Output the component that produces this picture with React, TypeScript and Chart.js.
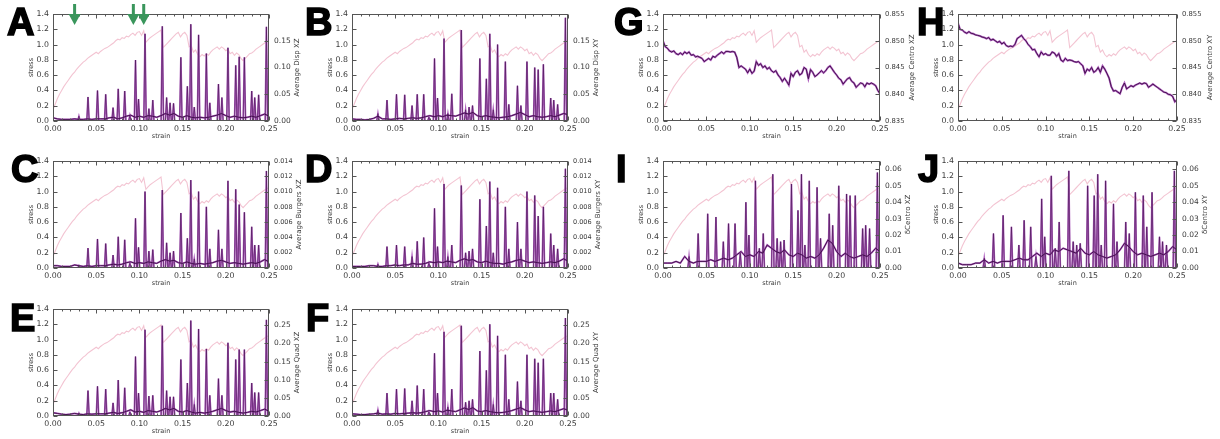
import React, { useEffect, useRef } from 'react';
import { Chart, registerables } from 'chart.js';
Chart.register(...registerables);

// ---------- data ----------
const STRESS_STEP = 0.0025;
const BASE_STEP = 0.005;
const CENTRO_STEP = 0.0025;
const X_TICKS = [0, 0.05, 0.1, 0.15, 0.2, 0.25];

const STRESS = [
  0.15, 0.22, 0.29, 0.35, 0.40, 0.45, 0.49, 0.53, 0.57, 0.61,
  0.64, 0.68, 0.71, 0.74, 0.77, 0.79, 0.82, 0.84, 0.86, 0.88,
  0.90, 0.88, 0.91, 0.93, 0.95, 0.96, 0.98, 1.00, 1.02, 1.05,
  1.07, 1.06, 1.09, 1.08, 1.11, 1.10, 1.13, 1.15, 1.12, 1.16,
  1.17, 1.12, 1.18, 1.03, 1.06, 1.09, 1.11, 1.13, 1.15, 1.17,
  1.19, 0.96, 0.99, 1.02, 1.05, 1.08, 1.11, 1.14, 1.16, 1.10,
  1.14, 1.16, 1.12, 0.97, 0.99, 0.90, 0.93, 0.87, 0.84, 0.87,
  0.85, 0.88, 0.86, 0.90, 0.93, 0.95, 0.97, 0.94, 0.97, 0.95,
  0.92, 0.94, 0.88, 0.90, 0.86, 0.89, 0.87, 0.82, 0.79, 0.82,
  0.85, 0.88, 0.89, 0.91, 0.94, 0.96, 0.98, 1.00, 1.02, 1.04,
  1.05,
];

const SPIKE_X = [
  0.030, 0.0405, 0.0515, 0.061, 0.0695, 0.0755, 0.083, 0.089, 0.0955, 0.099,
  0.1065, 0.111, 0.1155, 0.1265, 0.1315, 0.1355, 0.1395, 0.148, 0.1555, 0.1595,
  0.1635, 0.1685, 0.1775, 0.1815, 0.1915, 0.1955, 0.2025, 0.2115, 0.2155, 0.2215,
  0.2300, 0.2335, 0.2380, 0.2470,
];

const A_PEAKS = [0.009,0.045,0.057,0.050,0.025,0.060,0.056,0.010,0.114,0.041,0.163,0.023,0.039,0.177,0.044,0.034,0.033,0.119,0.065,0.181,0.026,0.161,0.126,0.034,0.069,0.044,0.137,0.104,0.120,0.119,0.056,0.044,0.049,0.176];
const B_PEAKS = [0.014,0.039,0.050,0.049,0.029,0.050,0.050,0.007,0.117,0.043,0.154,0.014,0.051,0.170,0.021,0.026,0.029,0.117,0.079,0.163,0.021,0.143,0.111,0.031,0.066,0.029,0.111,0.100,0.096,0.106,0.043,0.039,0.031,0.193];
const C_PEAKS = [0.0003,0.0026,0.0038,0.0032,0.0017,0.0041,0.0037,0.0006,0.0065,0.0027,0.0100,0.0022,0.0024,0.0102,0.0033,0.0020,0.0022,0.0072,0.0039,0.0115,0.0012,0.0100,0.0080,0.0025,0.0050,0.0025,0.0114,0.0103,0.0083,0.0073,0.0054,0.0030,0.0030,0.0127];
const D_PEAKS = [0.0005,0.0028,0.0030,0.0028,0.0015,0.0035,0.0040,0.0006,0.0078,0.0028,0.0110,0.0015,0.0030,0.0108,0.0020,0.0022,0.0025,0.0090,0.0055,0.0113,0.0020,0.0105,0.0080,0.0025,0.0060,0.0025,0.0100,0.0095,0.0068,0.0080,0.0045,0.0030,0.0025,0.0130];
const E_PEAKS = [0.008,0.070,0.082,0.074,0.036,0.099,0.078,0.011,0.164,0.063,0.238,0.055,0.057,0.249,0.070,0.053,0.053,0.156,0.091,0.263,0.032,0.240,0.185,0.057,0.103,0.057,0.202,0.156,0.183,0.183,0.091,0.065,0.065,0.265];
const F_PEAKS = [0.017,0.063,0.074,0.076,0.042,0.084,0.074,0.011,0.173,0.063,0.232,0.025,0.074,0.249,0.038,0.042,0.046,0.179,0.126,0.253,0.032,0.221,0.169,0.046,0.095,0.042,0.169,0.158,0.147,0.158,0.063,0.063,0.046,0.270];
const I_PEAKS = [0.007,0.021,0.033,0.031,0.016,0.027,0.027,0.009,0.040,0.020,0.053,0.012,0.021,0.057,0.018,0.016,0.017,0.051,0.035,0.057,0.014,0.053,0.049,0.018,0.033,0.026,0.050,0.045,0.044,0.044,0.024,0.026,0.024,0.058];
const J_PEAKS = [0.006,0.021,0.032,0.025,0.014,0.029,0.025,0.007,0.042,0.019,0.056,0.012,0.028,0.059,0.016,0.014,0.015,0.050,0.044,0.057,0.014,0.053,0.039,0.016,0.028,0.021,0.046,0.044,0.025,0.046,0.019,0.016,0.014,0.059];

const A_BASE = [0.006,0.004,0.003,0.003,0.003,0.004,0.003,0.003,0.004,0.003,0.004,0.004,0.004,0.006,0.007,0.004,0.006,0.009,0.011,0.007,0.009,0.007,0.010,0.009,0.007,0.010,0.014,0.011,0.014,0.009,0.007,0.010,0.007,0.006,0.007,0.006,0.007,0.009,0.011,0.014,0.010,0.007,0.009,0.007,0.006,0.007,0.009,0.007,0.010,0.013,0.009];
const B_BASE = [0.004,0.003,0.003,0.002,0.003,0.005,0.009,0.004,0.004,0.003,0.004,0.005,0.004,0.005,0.006,0.005,0.006,0.008,0.010,0.008,0.010,0.008,0.011,0.010,0.009,0.012,0.015,0.013,0.016,0.010,0.008,0.010,0.008,0.007,0.006,0.007,0.008,0.010,0.013,0.016,0.012,0.008,0.010,0.008,0.007,0.008,0.010,0.008,0.011,0.014,0.012];
const C_BASE = [0.0003,0.0003,0.0002,0.0002,0.0002,0.0004,0.0003,0.0002,0.0003,0.0002,0.0003,0.0003,0.0003,0.0004,0.0005,0.0004,0.0005,0.0007,0.0008,0.0006,0.0007,0.0006,0.0008,0.0007,0.0006,0.0009,0.0011,0.0009,0.0010,0.0007,0.0006,0.0008,0.0006,0.0005,0.0006,0.0005,0.0006,0.0007,0.0009,0.0010,0.0008,0.0006,0.0007,0.0006,0.0005,0.0006,0.0007,0.0006,0.0008,0.0011,0.0008];
const D_BASE = [0.0002,0.0002,0.0002,0.0002,0.0003,0.0003,0.0002,0.0002,0.0003,0.0003,0.0004,0.0003,0.0004,0.0004,0.0006,0.0005,0.0005,0.0006,0.0008,0.0007,0.0008,0.0007,0.0009,0.0008,0.0007,0.0010,0.0012,0.0010,0.0011,0.0008,0.0007,0.0009,0.0007,0.0006,0.0006,0.0005,0.0007,0.0008,0.0010,0.0011,0.0009,0.0007,0.0008,0.0007,0.0006,0.0007,0.0008,0.0007,0.0009,0.0012,0.0009];
const E_BASE = [0.009,0.007,0.005,0.004,0.005,0.007,0.005,0.004,0.006,0.005,0.006,0.006,0.006,0.008,0.010,0.007,0.009,0.013,0.017,0.011,0.013,0.010,0.015,0.013,0.011,0.015,0.021,0.017,0.021,0.013,0.011,0.015,0.011,0.008,0.010,0.008,0.010,0.013,0.017,0.021,0.015,0.011,0.013,0.010,0.008,0.010,0.013,0.011,0.015,0.019,0.013];
const F_BASE = [0.006,0.005,0.004,0.004,0.005,0.006,0.008,0.005,0.006,0.005,0.007,0.006,0.007,0.008,0.009,0.008,0.009,0.012,0.015,0.012,0.014,0.011,0.016,0.014,0.012,0.017,0.022,0.018,0.023,0.014,0.012,0.015,0.012,0.010,0.009,0.010,0.012,0.015,0.019,0.023,0.017,0.012,0.014,0.012,0.010,0.012,0.014,0.012,0.016,0.020,0.016];
const I_BASE = [0.003,0.003,0.003,0.004,0.003,0.007,0.004,0.003,0.004,0.004,0.004,0.005,0.004,0.005,0.006,0.005,0.006,0.008,0.010,0.007,0.008,0.007,0.010,0.009,0.014,0.012,0.010,0.009,0.011,0.008,0.007,0.009,0.008,0.006,0.007,0.006,0.008,0.012,0.017,0.015,0.010,0.007,0.009,0.007,0.006,0.007,0.008,0.007,0.009,0.012,0.010];
const J_BASE = [0.003,0.002,0.002,0.002,0.003,0.003,0.005,0.003,0.004,0.003,0.004,0.004,0.004,0.005,0.006,0.005,0.005,0.007,0.009,0.007,0.009,0.008,0.011,0.010,0.012,0.011,0.010,0.009,0.012,0.009,0.008,0.010,0.008,0.007,0.006,0.007,0.008,0.011,0.015,0.013,0.010,0.008,0.009,0.008,0.007,0.008,0.009,0.008,0.010,0.013,0.011];

const G_CENTRO = [
  0.8500, 0.8489, 0.8486, 0.8481, 0.8479, 0.8481, 0.8476, 0.8474, 0.8477, 0.8474,
  0.8479, 0.8476, 0.8479, 0.8473, 0.8474, 0.8470, 0.8471, 0.8469, 0.8467, 0.8461,
  0.8464, 0.8467, 0.8464, 0.8471, 0.8469, 0.8473, 0.8476, 0.8479, 0.8476, 0.8480,
  0.8480, 0.8479, 0.8480, 0.8479, 0.8469, 0.8450, 0.8453, 0.8450, 0.8447, 0.8440,
  0.8447, 0.8439, 0.8443, 0.8461, 0.8454, 0.8457, 0.8450, 0.8453, 0.8447, 0.8450,
  0.8444, 0.8441, 0.8444, 0.8436, 0.8431, 0.8424, 0.8430, 0.8424, 0.8417, 0.8439,
  0.8433, 0.8441, 0.8444, 0.8436, 0.8439, 0.8450, 0.8447, 0.8429, 0.8446, 0.8441,
  0.8433, 0.8436, 0.8440, 0.8444, 0.8440, 0.8444, 0.8450, 0.8453, 0.8447, 0.8441,
  0.8436, 0.8430, 0.8427, 0.8419, 0.8424, 0.8429, 0.8431, 0.8424, 0.8421, 0.8413,
  0.8417, 0.8421, 0.8420, 0.8414, 0.8421, 0.8419, 0.8421, 0.8419, 0.8416, 0.8407,
  0.8401,
];
const H_CENTRO = [
  0.8533, 0.8521, 0.8520, 0.8516, 0.8514, 0.8517, 0.8514, 0.8513, 0.8511, 0.8510,
  0.8509, 0.8507, 0.8506, 0.8504, 0.8506, 0.8501, 0.8503, 0.8500, 0.8497, 0.8499,
  0.8494, 0.8497, 0.8491, 0.8489, 0.8490, 0.8489, 0.8493, 0.8504, 0.8507, 0.8510,
  0.8504, 0.8500, 0.8493, 0.8489, 0.8483, 0.8484, 0.8476, 0.8470, 0.8479, 0.8474,
  0.8476, 0.8473, 0.8473, 0.8479, 0.8477, 0.8471, 0.8476, 0.8464, 0.8461, 0.8467,
  0.8463, 0.8464, 0.8463, 0.8461, 0.8460, 0.8461, 0.8457, 0.8453, 0.8439, 0.8447,
  0.8444, 0.8450, 0.8441, 0.8444, 0.8450, 0.8441, 0.8453, 0.8447, 0.8439, 0.8430,
  0.8414, 0.8406, 0.8407, 0.8404, 0.8401, 0.8413, 0.8421, 0.8410, 0.8413, 0.8416,
  0.8414, 0.8417, 0.8419, 0.8421, 0.8419, 0.8421, 0.8420, 0.8413, 0.8416, 0.8419,
  0.8416, 0.8413, 0.8410, 0.8407, 0.8404, 0.8403, 0.8400, 0.8399, 0.8396, 0.8386,
  0.8390,
];

const ARROW_STRAINS = [0.025, 0.093, 0.105];

const DISP_TICKS = [0, 0.05, 0.1, 0.15];
const BURGERS_TICKS = [0, 0.002, 0.004, 0.006, 0.008, 0.01, 0.012, 0.014];
const QUAD_TICKS = [0, 0.05, 0.1, 0.15, 0.2, 0.25];
const CENTRO_TICKS = [0.835, 0.84, 0.845, 0.85, 0.855];
const DCENTRO_TICKS = [0, 0.01, 0.02, 0.03, 0.04, 0.05, 0.06];

// ---------- layout ----------
const COL_LEFT = [53, 352, 663, 958];
const COL_RIGHT = [269, 568, 880, 1177];
const ROW_TOP = [14, 161, 309];
const PLOT_H = 107;
const PAD_L = 34, PAD_R = 40, PAD_T = 12, PAD_B = 24;

const PINK = 'rgb(243,196,210)';
const DARK = 'rgba(60,12,70,0.9)';
const VIOLET = 'rgb(175,95,190)';
const FONT = 'DejaVu Sans';
const TXT = '#3a3a3a';

type PanelCfg = {
  id: string; col: number; row: number; lx: number; ly: number;
  peaks?: number[]; base?: number[]; centro?: number[];
  rMin: number; rMax: number; rTicks: number[]; dec: number; rFont: number;
  rTitle: string; rOff: number; arrows?: boolean;
};

const PANELS: PanelCfg[] = [
  { id: 'A', col: 0, row: 0, lx: 7, ly: 3, peaks: A_PEAKS, base: A_BASE, rMin: 0, rMax: 0.2, rTicks: DISP_TICKS, dec: 2, rFont: 7.5, rTitle: 'Average Disp XZ', rOff: 28, arrows: true },
  { id: 'B', col: 1, row: 0, lx: 305, ly: 3, peaks: B_PEAKS, base: B_BASE, rMin: 0, rMax: 0.2, rTicks: DISP_TICKS, dec: 2, rFont: 7.5, rTitle: 'Average Disp XY', rOff: 28 },
  { id: 'G', col: 2, row: 0, lx: 614, ly: 3, centro: G_CENTRO, rMin: 0.835, rMax: 0.855, rTicks: CENTRO_TICKS, dec: 3, rFont: 6.8, rTitle: 'Average Centro XZ', rOff: 32 },
  { id: 'H', col: 3, row: 0, lx: 917, ly: 3, centro: H_CENTRO, rMin: 0.835, rMax: 0.855, rTicks: CENTRO_TICKS, dec: 3, rFont: 6.8, rTitle: 'Average Centro XY', rOff: 33 },
  { id: 'C', col: 0, row: 1, lx: 11, ly: 150, peaks: C_PEAKS, base: C_BASE, rMin: 0, rMax: 0.014, rTicks: BURGERS_TICKS, dec: 3, rFont: 6.5, rTitle: 'Average Burgers XZ', rOff: 30 },
  { id: 'D', col: 1, row: 1, lx: 305, ly: 150, peaks: D_PEAKS, base: D_BASE, rMin: 0, rMax: 0.014, rTicks: BURGERS_TICKS, dec: 3, rFont: 6.5, rTitle: 'Average Burgers XY', rOff: 30 },
  { id: 'I', col: 2, row: 1, lx: 616, ly: 150, peaks: I_PEAKS, base: I_BASE, rMin: 0, rMax: 0.065, rTicks: DCENTRO_TICKS, dec: 2, rFont: 7.5, rTitle: 'δCentro XZ', rOff: 28 },
  { id: 'J', col: 3, row: 1, lx: 918, ly: 150, peaks: J_PEAKS, base: J_BASE, rMin: 0, rMax: 0.065, rTicks: DCENTRO_TICKS, dec: 2, rFont: 7.5, rTitle: 'δCentro XY', rOff: 28 },
  { id: 'E', col: 0, row: 2, lx: 10, ly: 299, peaks: E_PEAKS, base: E_BASE, rMin: 0, rMax: 0.295, rTicks: QUAD_TICKS, dec: 2, rFont: 7.5, rTitle: 'Average Quad XZ', rOff: 28 },
  { id: 'F', col: 1, row: 2, lx: 306, ly: 299, peaks: F_PEAKS, base: F_BASE, rMin: 0, rMax: 0.295, rTicks: QUAD_TICKS, dec: 2, rFont: 7.5, rTitle: 'Average Quad XY', rOff: 28 },
];

const SPIKE_HALF = 0.0014;

const decoPlugin = {
  id: 'deco',
  afterDraw(chart: any) {
    const o = chart.options.plugins.deco;
    const { ctx, chartArea: a, scales } = chart;
    const L = Math.round(a.left) + 0.5, R = Math.round(a.right) - 0.5;
    const T = Math.round(a.top) + 0.5, B = Math.round(a.bottom) - 0.5;
    ctx.save();
    ctx.strokeStyle = '#555';
    ctx.lineWidth = 1;
    ctx.strokeRect(L, T, R - L, B - T);
    ctx.beginPath();
    for (let k = 0; k <= 25; k++) {
      const px = Math.round(scales.x.getPixelForValue(k * 0.01)) + 0.5;
      const len = k % 5 === 0 ? 4 : 2;
      ctx.moveTo(px, B); ctx.lineTo(px, B - len);
      ctx.moveTo(px, T); ctx.lineTo(px, T + len);
    }
    scales.y.ticks.forEach((t: any) => {
      const py = Math.round(scales.y.getPixelForValue(t.value)) + 0.5;
      ctx.moveTo(L, py); ctx.lineTo(L + 4, py);
    });
    scales.y1.ticks.forEach((t: any) => {
      const py = Math.round(scales.y1.getPixelForValue(t.value)) + 0.5;
      ctx.moveTo(R, py); ctx.lineTo(R - 4, py);
    });
    ctx.stroke();

    ctx.fillStyle = TXT;
    ctx.textAlign = 'center';
    ctx.textBaseline = 'middle';
    ctx.font = `6.5px "${FONT}"`;
    const cx = (a.left + a.right) / 2, cy = (a.top + a.bottom) / 2;
    ctx.fillText('strain', cx, a.bottom + 15);
    ctx.save();
    ctx.translate(a.left - 22, cy);
    ctx.rotate(-Math.PI / 2);
    ctx.fillText('stress', 0, 0);
    ctx.restore();
    ctx.save();
    ctx.font = `7px "${FONT}"`;
    ctx.translate(a.right + o.rOff, cy);
    ctx.rotate(-Math.PI / 2);
    ctx.fillText(o.rTitle, 0, 0);
    ctx.restore();

    if (o.arrows) {
      ctx.fillStyle = 'rgb(58,150,92)';
      ARROW_STRAINS.forEach((s) => {
        const px = scales.x.getPixelForValue(s);
        ctx.fillRect(px - 1.5, a.top - 10, 3, 12);
        ctx.beginPath();
        ctx.moveTo(px - 6, a.top);
        ctx.lineTo(px + 6, a.top);
        ctx.lineTo(px, a.top + 11);
        ctx.closePath();
        ctx.fill();
      });
    }
    ctx.restore();
  },
};

function Panel({ cfg }: { cfg: PanelCfg }) {
  const ref = useRef<HTMLCanvasElement | null>(null);
  const plotW = COL_RIGHT[cfg.col] - COL_LEFT[cfg.col];
  const W = PAD_L + plotW + PAD_R;
  const H = PAD_T + PLOT_H + PAD_B;
  const left = COL_LEFT[cfg.col] - PAD_L;
  const top = ROW_TOP[cfg.row] - PAD_T;

  useEffect(() => {
    if (!ref.current) return;
    const datasets: any[] = [];
    const line = { pointRadius: 0, tension: 0, fill: false, spanGaps: false };
    if (cfg.peaks && cfg.base) {
      const spikes = () => {
        const pts: any[] = [];
        SPIKE_X.forEach((sx, i) => {
          pts.push({ x: sx - SPIKE_HALF, y: 0 }, { x: sx, y: cfg.peaks![i] }, { x: sx + SPIKE_HALF, y: 0 }, { x: sx + SPIKE_HALF, y: null });
        });
        return pts;
      };
      const base = () => cfg.base!.map((v, i) => ({ x: i * BASE_STEP, y: v }));
      datasets.push({ ...line, data: spikes(), borderColor: DARK, borderWidth: 0.6, yAxisID: 'y1', order: 1 });
      datasets.push({ ...line, data: base(), borderColor: DARK, borderWidth: 1, yAxisID: 'y1', order: 2 });
      datasets.push({ ...line, data: spikes(), borderColor: VIOLET, borderWidth: 1.7, yAxisID: 'y1', order: 3 });
      datasets.push({ ...line, data: base(), borderColor: VIOLET, borderWidth: 1.8, yAxisID: 'y1', order: 4 });
    } else if (cfg.centro) {
      const c = () => cfg.centro!.map((v, i) => ({ x: i * CENTRO_STEP, y: v }));
      datasets.push({ ...line, data: c(), borderColor: DARK, borderWidth: 1, yAxisID: 'y1', order: 1 });
      datasets.push({ ...line, data: c(), borderColor: VIOLET, borderWidth: 2, yAxisID: 'y1', order: 2 });
    }
    datasets.push({ ...line, data: STRESS.map((v, i) => ({ x: i * STRESS_STEP, y: v })), borderColor: PINK, borderWidth: 1.1, yAxisID: 'y', order: 10 });

    const tickFont = { family: FONT, size: 7.8 };
    const chart = new Chart(ref.current, {
      type: 'line',
      data: { datasets },
      options: {
        animation: false,
        responsive: false,
        events: [],
        layout: { padding: { top: PAD_T, left: 0, right: 0, bottom: 0 } },
        plugins: {
          legend: { display: false },
          tooltip: { enabled: false },
          deco: { rTitle: cfg.rTitle, rOff: cfg.rOff, arrows: !!cfg.arrows },
        } as any,
        scales: {
          x: {
            type: 'linear', position: 'bottom', min: 0, max: 0.25,
            grid: { display: false, drawTicks: false }, border: { display: false },
            ticks: { padding: 3, color: TXT, font: tickFont, maxRotation: 0, autoSkip: false, callback: (v: any) => Number(v).toFixed(2) },
            afterBuildTicks: (s: any) => { s.ticks = X_TICKS.map((v) => ({ value: v })); },
            afterFit: (s: any) => { s.height = PAD_B; },
          },
          y: {
            type: 'linear', position: 'left', min: 0, max: 1.4,
            grid: { display: false, drawTicks: false }, border: { display: false },
            ticks: { stepSize: 0.2, padding: 4, color: TXT, font: tickFont, callback: (v: any) => Number(v).toFixed(1) },
            afterFit: (s: any) => { s.width = PAD_L; },
          },
          y1: {
            type: 'linear', position: 'right', min: cfg.rMin, max: cfg.rMax,
            grid: { display: false, drawTicks: false }, border: { display: false },
            ticks: { padding: 5, color: TXT, font: { family: FONT, size: cfg.rFont }, callback: (v: any) => Number(v).toFixed(cfg.dec) },
            afterBuildTicks: (s: any) => { s.ticks = cfg.rTicks.map((v) => ({ value: v })); },
            afterFit: (s: any) => { s.width = PAD_R; },
          },
        } as any,
      },
      plugins: [decoPlugin],
    });
    return () => chart.destroy();
  }, []);

  return (
    <canvas
      ref={ref}
      width={W}
      height={H}
      style={{ position: 'absolute', left, top, width: W, height: H }}
    />
  );
}

export default function App() {
  return (
    <div style={{ position: 'fixed', left: 0, top: 0, width: 1220, height: 439, background: '#fff', overflow: 'hidden' }}>
      {PANELS.map((p) => (
        <Panel key={p.id} cfg={p} />
      ))}
      {PANELS.map((p) => (
        <div
          key={'L' + p.id}
          style={{
            position: 'absolute', left: p.lx, top: p.ly,
            fontFamily: '"Liberation Sans", Arial, sans-serif', fontWeight: 900, fontSize: 38, lineHeight: '38px',
            color: '#000', WebkitTextStroke: '1.6px #000', zIndex: 2,
          }}
        >
          {p.id}
        </div>
      ))}
    </div>
  );
}
